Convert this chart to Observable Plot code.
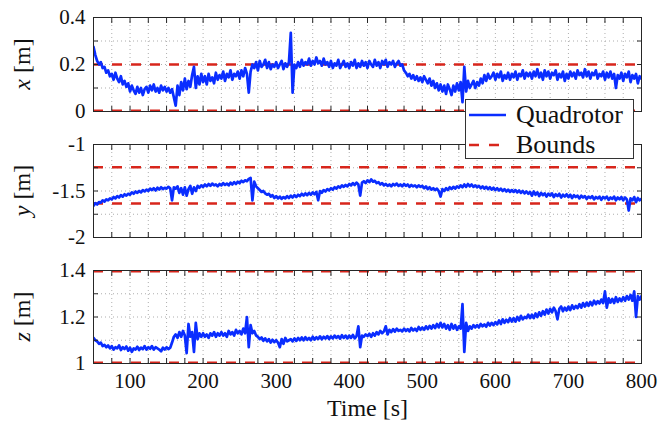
<!DOCTYPE html>
<html><head><meta charset="utf-8">
<script src="https://cdn.jsdelivr.net/npm/d3@7"></script>
<script src="https://cdn.jsdelivr.net/npm/@observablehq/plot@0.6"></script>
<style>
body{margin:0;background:#fff;}
#wrap{position:relative;width:662px;height:430px;font-family:"Liberation Serif","Times New Roman","DejaVu Serif",serif;overflow:hidden;}
#wrap > svg{display:block;}
#wrap svg text{font-family:"Liberation Serif","Times New Roman","DejaVu Serif",serif;}
#legend{position:absolute;left:465px;top:99px;width:169px;height:60px;background:#fff;border:1px solid #333;box-sizing:border-box;font-family:"Liberation Serif","Times New Roman","DejaVu Serif",serif;font-size:26px;color:#111;}
#legend .row{position:absolute;left:0;height:30px;display:flex;align-items:center;}
#legend svg{margin-left:3px;margin-right:10px;}
</style></head><body><div id="wrap"><div id="legend"></div></div>
<script>
// Time samples (s), every 2.5 s from 50 to 800
const time = d3.range(50, 800.1, 2.5);
// x position [m]
const xPos = [
0.275,0.24,0.215,0.2,0.21,0.185,0.19,0.165,0.175,0.15,
0.16,0.135,0.165,0.14,0.125,0.15,0.115,0.13,0.105,0.12,
0.085,0.11,0.09,0.075,0.105,0.08,0.1,0.07,0.095,0.105,
0.08,0.11,0.09,0.115,0.085,0.1,0.08,0.11,0.09,0.105,
0.085,0.1,0.08,0.095,0.06,0.025,0.11,0.07,0.125,0.09,
0.14,0.095,0.13,0.105,0.155,0.19,0.1,0.15,0.115,0.16,
0.125,0.15,0.115,0.16,0.13,0.145,0.12,0.165,0.135,0.155,
0.14,0.17,0.13,0.16,0.145,0.175,0.135,0.16,0.15,0.17,
0.14,0.175,0.15,0.185,0.16,0.08,0.17,0.2,0.185,0.21,
0.175,0.215,0.19,0.2,0.22,0.185,0.21,0.18,0.2,0.19,
0.21,0.185,0.2,0.215,0.18,0.205,0.19,0.21,0.335,0.08,
0.2,0.185,0.21,0.19,0.22,0.195,0.21,0.2,0.225,0.195,
0.215,0.2,0.23,0.205,0.215,0.195,0.225,0.2,0.21,0.19,
0.215,0.185,0.205,0.195,0.22,0.185,0.2,0.215,0.19,0.205,
0.185,0.21,0.195,0.22,0.185,0.205,0.19,0.215,0.195,0.21,
0.185,0.215,0.2,0.19,0.22,0.195,0.21,0.185,0.215,0.2,
0.22,0.19,0.21,0.2,0.215,0.19,0.205,0.215,0.195,0.2,
0.175,0.165,0.15,0.16,0.14,0.155,0.135,0.15,0.13,0.145,
0.125,0.15,0.135,0.12,0.14,0.11,0.13,0.1,0.12,0.09,
0.115,0.085,0.11,0.075,0.115,0.095,0.07,0.11,0.085,0.12,
0.09,0.125,0.04,0.19,0.085,0.13,0.1,0.115,0.13,0.1,
0.125,0.11,0.14,0.12,0.155,0.13,0.16,0.14,0.15,0.165,
0.135,0.16,0.145,0.17,0.13,0.155,0.14,0.165,0.135,0.16,
0.145,0.17,0.135,0.16,0.15,0.175,0.14,0.165,0.15,0.165,
0.14,0.17,0.15,0.18,0.145,0.165,0.135,0.175,0.15,0.17,
0.14,0.165,0.155,0.175,0.135,0.16,0.145,0.17,0.13,0.16,
0.14,0.17,0.15,0.165,0.14,0.175,0.155,0.165,0.145,0.18,
0.15,0.17,0.14,0.165,0.155,0.175,0.14,0.16,0.15,0.17,
0.135,0.165,0.145,0.17,0.14,0.16,0.1,0.155,0.14,0.165,
0.13,0.16,0.145,0.17,0.125,0.155,0.14,0.16,0.12,0.15,
0.14];
// y position [m]
const yPos = [
-1.66,-1.63,-1.645,-1.62,-1.625,-1.6,-1.615,-1.59,-1.6,-1.58,
-1.59,-1.565,-1.58,-1.555,-1.57,-1.545,-1.56,-1.535,-1.55,-1.53,
-1.54,-1.515,-1.53,-1.505,-1.52,-1.5,-1.515,-1.49,-1.505,-1.485,
-1.5,-1.475,-1.49,-1.47,-1.495,-1.465,-1.485,-1.46,-1.48,-1.465,
-1.475,-1.455,-1.47,-1.6,-1.46,-1.475,-1.45,-1.52,-1.47,-1.54,
-1.46,-1.55,-1.48,-1.445,-1.53,-1.46,-1.5,-1.445,-1.465,-1.44,
-1.455,-1.43,-1.45,-1.425,-1.445,-1.42,-1.44,-1.43,-1.45,-1.425,
-1.44,-1.415,-1.435,-1.42,-1.44,-1.41,-1.43,-1.405,-1.425,-1.4,
-1.415,-1.39,-1.405,-1.385,-1.395,-1.37,-1.36,-1.6,-1.4,-1.45,
-1.47,-1.49,-1.51,-1.5,-1.525,-1.54,-1.53,-1.56,-1.545,-1.575,
-1.555,-1.58,-1.56,-1.585,-1.565,-1.58,-1.555,-1.575,-1.55,-1.57,
-1.545,-1.565,-1.54,-1.555,-1.53,-1.55,-1.525,-1.545,-1.52,-1.54,
-1.515,-1.535,-1.51,-1.6,-1.5,-1.52,-1.49,-1.505,-1.48,-1.495,
-1.47,-1.485,-1.46,-1.475,-1.45,-1.465,-1.44,-1.455,-1.435,-1.45,
-1.425,-1.44,-1.415,-1.435,-1.41,-1.43,-1.55,-1.41,-1.395,-1.415,
-1.385,-1.405,-1.375,-1.4,-1.39,-1.415,-1.405,-1.43,-1.415,-1.44,
-1.425,-1.445,-1.43,-1.45,-1.425,-1.44,-1.42,-1.445,-1.43,-1.45,
-1.425,-1.445,-1.43,-1.455,-1.435,-1.45,-1.44,-1.46,-1.44,-1.455,
-1.445,-1.47,-1.45,-1.48,-1.46,-1.485,-1.47,-1.49,-1.475,-1.5,
-1.56,-1.48,-1.5,-1.47,-1.49,-1.46,-1.48,-1.455,-1.475,-1.45,
-1.465,-1.44,-1.46,-1.43,-1.455,-1.425,-1.45,-1.43,-1.455,-1.44,
-1.46,-1.445,-1.47,-1.45,-1.475,-1.455,-1.48,-1.46,-1.485,-1.465,
-1.49,-1.47,-1.495,-1.475,-1.5,-1.48,-1.505,-1.485,-1.51,-1.49,
-1.51,-1.49,-1.515,-1.495,-1.52,-1.5,-1.525,-1.505,-1.53,-1.51,
-1.55,-1.505,-1.54,-1.515,-1.555,-1.52,-1.545,-1.525,-1.56,-1.53,
-1.55,-1.525,-1.565,-1.535,-1.555,-1.53,-1.57,-1.54,-1.56,-1.535,
-1.565,-1.54,-1.575,-1.545,-1.565,-1.55,-1.58,-1.55,-1.57,-1.555,
-1.585,-1.56,-1.575,-1.555,-1.59,-1.565,-1.58,-1.56,-1.595,-1.565,
-1.58,-1.56,-1.595,-1.57,-1.585,-1.56,-1.6,-1.57,-1.59,-1.565,
-1.6,-1.57,-1.59,-1.71,-1.58,-1.6,-1.565,-1.62,-1.575,-1.6,
-1.585];
// z position [m]
const zPos = [
1.11,1.1,1.095,1.085,1.09,1.075,1.08,1.07,1.078,1.065,
1.075,1.06,1.07,1.065,1.078,1.058,1.07,1.062,1.073,1.055,
1.068,1.05,1.065,1.06,1.072,1.058,1.068,1.062,1.075,1.06,
1.07,1.063,1.075,1.06,1.07,1.065,1.06,1.052,1.068,1.06,
1.07,1.062,1.068,1.09,1.115,1.125,1.11,1.135,1.115,1.14,
1.12,1.045,1.17,1.115,1.135,1.05,1.175,1.105,1.13,1.115,
1.13,1.115,1.125,1.11,1.13,1.12,1.135,1.115,1.13,1.12,
1.135,1.12,1.13,1.115,1.14,1.125,1.135,1.12,1.145,1.13,
1.14,1.125,1.15,1.13,1.2,1.07,1.165,1.13,1.14,1.12,
1.115,1.105,1.112,1.098,1.108,1.095,1.105,1.09,1.102,1.092,
1.1,1.09,1.07,1.105,1.085,1.11,1.095,1.1,1.105,1.095,
1.108,1.097,1.11,1.1,1.112,1.1,1.113,1.102,1.11,1.1,
1.115,1.103,1.113,1.105,1.117,1.104,1.115,1.107,1.118,1.105,
1.117,1.108,1.12,1.11,1.118,1.107,1.122,1.11,1.12,1.108,
1.12,1.11,1.123,1.108,1.118,1.16,1.07,1.12,1.115,1.125,
1.118,1.128,1.115,1.13,1.12,1.135,1.125,1.14,1.13,1.138,
1.16,1.125,1.145,1.135,1.148,1.137,1.15,1.14,1.145,1.138,
1.15,1.14,1.148,1.138,1.153,1.142,1.15,1.14,1.157,1.145,
1.155,1.145,1.16,1.148,1.162,1.15,1.165,1.152,1.17,1.155,
1.175,1.155,1.17,1.15,1.165,1.145,1.17,1.15,1.165,1.145,
1.16,1.15,1.255,1.05,1.175,1.14,1.16,1.15,1.165,1.155,
1.165,1.155,1.17,1.16,1.168,1.158,1.175,1.163,1.175,1.165,
1.178,1.168,1.185,1.17,1.19,1.175,1.188,1.178,1.195,1.18,
1.195,1.18,1.2,1.185,1.205,1.19,1.2,1.195,1.21,1.195,
1.21,1.195,1.215,1.2,1.22,1.205,1.225,1.21,1.232,1.215,
1.235,1.22,1.24,1.225,1.19,1.235,1.245,1.225,1.24,1.228,
1.245,1.23,1.25,1.235,1.248,1.238,1.255,1.24,1.26,1.245,
1.262,1.248,1.265,1.25,1.27,1.255,1.268,1.258,1.275,1.26,
1.31,1.24,1.28,1.262,1.278,1.26,1.285,1.265,1.28,1.268,
1.285,1.27,1.29,1.275,1.295,1.27,1.31,1.2,1.29,1.275,
1.29];
const xBounds = [0.003, 0.2];
const yBounds = [-1.635, -1.245];
const zBounds = [1.003, 1.397];
const xTickLabels = [100, 200, 300, 400, 500, 600, 700, 800];
const gridTimes = d3.range(50, 801, 25);
const seriesName = "Quadrotor";
const boundsName = "Bounds";

const BLUE = "#0a2dff";
const RED = "#d8261c";
const AXIS = "#262626";
const FONT = "'Liberation Serif','Times New Roman','DejaVu Serif',serif";

function panel(o) {
  const data = time.map((t, i) => ({t, v: o.values[i]}));
  const marks = [
    Plot.gridX(gridTimes, {stroke: "#9a9a9a", strokeOpacity: 0.8, strokeDasharray: "1,3"}),
    Plot.gridY(o.grid, {stroke: "#9a9a9a", strokeOpacity: 0.8, strokeDasharray: "1,3"}),
    Plot.ruleY(o.bounds, {stroke: RED, strokeWidth: 2.6, strokeDasharray: "10,9"}),
    Plot.line(data, {x: "t", y: "v", stroke: BLUE, strokeWidth: 2.7, clip: true}),
    Plot.axisX(gridTimes, {anchor: "bottom", tickSize: -5, text: null, stroke: AXIS}),
    Plot.axisX(gridTimes, {anchor: "top", tickSize: -5, text: null, stroke: AXIS}),
    Plot.axisY(o.yticks, {anchor: "left", tickSize: -5, text: null, stroke: AXIS}),
    Plot.axisY(o.yticks, {anchor: "right", tickSize: -5, text: null, stroke: AXIS}),
    Plot.axisY(o.labels, {anchor: "left", tickSize: 0, tickPadding: 8, tickFormat: d => String(d), fontSize: 21, fill: "#111", label: null}),
    Plot.frame({stroke: AXIS, strokeWidth: 1})
  ];
  if (o.showX) {
    marks.push(Plot.axisX(xTickLabels, {anchor: "bottom", tickSize: 0, tickPadding: 10, tickFormat: d => String(d), fontSize: 21, fill: "#111", label: null}));
    marks.push(Plot.text(["Time [s]"], {frameAnchor: "bottom", dy: 52, fontSize: 24, fill: "#111"}));
  }
  const svg = Plot.plot({
    width: 662, height: o.height,
    marginLeft: 93, marginRight: 21, marginTop: 17, marginBottom: o.marginBottom,
    style: {fontFamily: FONT, background: "transparent", overflow: "visible"},
    x: {domain: [50, 800], label: null, axis: null},
    y: {domain: o.domain, label: null, axis: null},
    marks
  });
  const t = d3.select(svg).append("text")
    .attr("transform", `translate(30, ${17 + o.plotH / 2}) rotate(-90)`)
    .attr("text-anchor", "middle")
    .attr("font-size", 24)
    .attr("fill", "#111")
    .attr("font-family", FONT);
  t.append("tspan").attr("font-style", "italic").text(o.name);
  t.append("tspan").text(" [m]");
  return svg;
}

const wrap = document.getElementById("wrap");
const legend = document.getElementById("legend");
wrap.insertBefore(panel({values: xPos, domain: [0, 0.4], grid: [0.1, 0.2, 0.3], yticks: [0, 0.1, 0.2, 0.3, 0.4], labels: [0, 0.2, 0.4], bounds: xBounds, name: "x", height: 127, marginBottom: 16, plotH: 94}), legend);
wrap.insertBefore(panel({values: yPos, domain: [-2, -1], grid: [-1.75, -1.5, -1.25], yticks: [-2, -1.75, -1.5, -1.25, -1], labels: [-2, -1.5, -1], bounds: yBounds, name: "y", height: 126, marginBottom: 16, plotH: 93}), legend);
wrap.insertBefore(panel({values: zPos, domain: [1, 1.4], grid: [1.1, 1.2, 1.3], yticks: [1, 1.1, 1.2, 1.3, 1.4], labels: [1, 1.2, 1.4], bounds: zBounds, name: "z", height: 177, marginBottom: 67, plotH: 93, showX: true}), legend);

legend.innerHTML = `
<div class="row" style="top:0px"><svg width="37" height="10"><line x1="0" x2="37" y1="5" y2="5" stroke="${BLUE}" stroke-width="2.5"/></svg><span>${seriesName}</span></div>
<div class="row" style="top:30px"><svg width="37" height="10"><line x1="0" x2="37" y1="5" y2="5" stroke="${RED}" stroke-width="2.6" stroke-dasharray="10,10"/></svg><span>${boundsName}</span></div>`;
</script>
</body></html>
